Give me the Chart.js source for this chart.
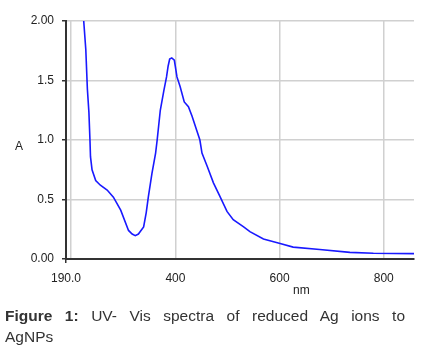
<!DOCTYPE html>
<html>
<head>
<meta charset="utf-8">
<script src="https://cdn.jsdelivr.net/npm/chart.js@4.4.1/dist/chart.umd.min.js"></script>
<style>
  html, body { margin: 0; padding: 0; background: #fff; }
  #wrap { position: relative; width: 427px; height: 352px; overflow: hidden; }
  #chart { position: absolute; left: 0; top: 0; }
  .axis-title { position: absolute; font: 12px "Liberation Sans", Arial, sans-serif; color: #222; }
  #caption {
    position: absolute; left: 5px; top: 305px; width: 400px;
    font: 15.5px/21px "Liberation Sans", Arial, sans-serif; color: #333;
    text-align: justify; text-align-last: justify;
  }
</style>
</head>
<body>
<div id="wrap">
  <canvas id="chart" width="427" height="300"></canvas>
  <div class="axis-title" style="left:15px;top:139px;">A</div>
  <div class="axis-title" style="left:293px;top:283px;">nm</div>
  <div id="caption"><b>Figure 1:</b> UV- Vis spectra of reduced Ag ions to<br>AgNPs</div>
</div>
<script>
// UV-Vis absorbance spectrum

const wavelengths = [
  224, 228, 231, 234, 236, 237, 240, 247, 256, 269, 281, 295, 310, 317, 323, 329,
  339, 344, 348, 355, 362, 365, 371, 378, 383, 386, 389, 393, 398, 403, 409, 417,
  425, 432, 441, 447, 451, 461, 473, 485, 499, 511, 531, 543, 569, 601, 626, 677,
  735, 780, 858
];
const absorbance = [
  2.00, 1.76, 1.43, 1.23, 1.00, 0.86, 0.75, 0.66, 0.62, 0.58, 0.52, 0.41, 0.24, 0.21, 0.196, 0.21,
  0.27, 0.39, 0.52, 0.72, 0.89, 1.00, 1.25, 1.42, 1.53, 1.62, 1.68, 1.69, 1.67, 1.53, 1.45, 1.32,
  1.28, 1.20, 1.08, 1.00, 0.89, 0.78, 0.64, 0.53, 0.40, 0.33, 0.27, 0.23, 0.168, 0.13, 0.10, 0.08,
  0.056, 0.048, 0.045
];

const xTicks = [190, 200, 400, 600, 800];
const yTicks = [0, 0.5, 1.0, 1.5, 2.0];
const yTickLabels = ['0.00', '0.5', '1.0', '1.5', '2.00'];

const tickFont = { family: '"Liberation Sans", Arial, sans-serif', size: 12 };

new Chart(document.getElementById('chart'), {
  type: 'line',
  data: {
    datasets: [{
      data: wavelengths.map((x, i) => ({ x, y: absorbance[i] })),
      borderColor: 'rgb(25, 25, 255)',
      borderWidth: 1.6,
      pointRadius: 0,
      tension: 0,
      fill: false
    }]
  },
  options: {
    responsive: false,
    animation: false,
    layout: { padding: { top: 21, right: 13, left: 0, bottom: 0 } },
    plugins: { legend: { display: false }, tooltip: { enabled: false } },
    scales: {
      x: {
        type: 'linear',
        min: 190,
        max: 858,
        afterBuildTicks: (scale) => { scale.ticks = xTicks.map(v => ({ value: v })); },
        afterFit: (scale) => { scale.height = 41; },
        ticks: {
          autoSkip: false,
          maxRotation: 0,
          padding: 8,
          color: '#222',
          font: tickFont,
          callback: (v) => v === 190 ? '190.0' : (v === 200 ? '' : String(v))
        },
        grid: {
          color: '#d0d0d0',
          lineWidth: 1.5,
          tickLength: 4,
          tickColor: (ctx) => ctx.index === 0 ? '#333' : 'rgba(0,0,0,0)'
        },
        border: { color: '#333', width: 2 }
      },
      y: {
        min: 0,
        max: 2,
        afterBuildTicks: (scale) => { scale.ticks = yTicks.map(v => ({ value: v })); },
        afterFit: (scale) => { scale.width = 66; },
        ticks: {
          autoSkip: false,
          padding: 8,
          color: '#222',
          font: tickFont,
          callback: (v) => yTickLabels[yTicks.indexOf(v)]
        },
        grid: {
          color: '#d0d0d0',
          lineWidth: 1.5,
          tickLength: 4,
          tickColor: '#333'
        },
        border: { color: '#333', width: 2 }
      }
    }
  }
});
</script>
</body>
</html>
